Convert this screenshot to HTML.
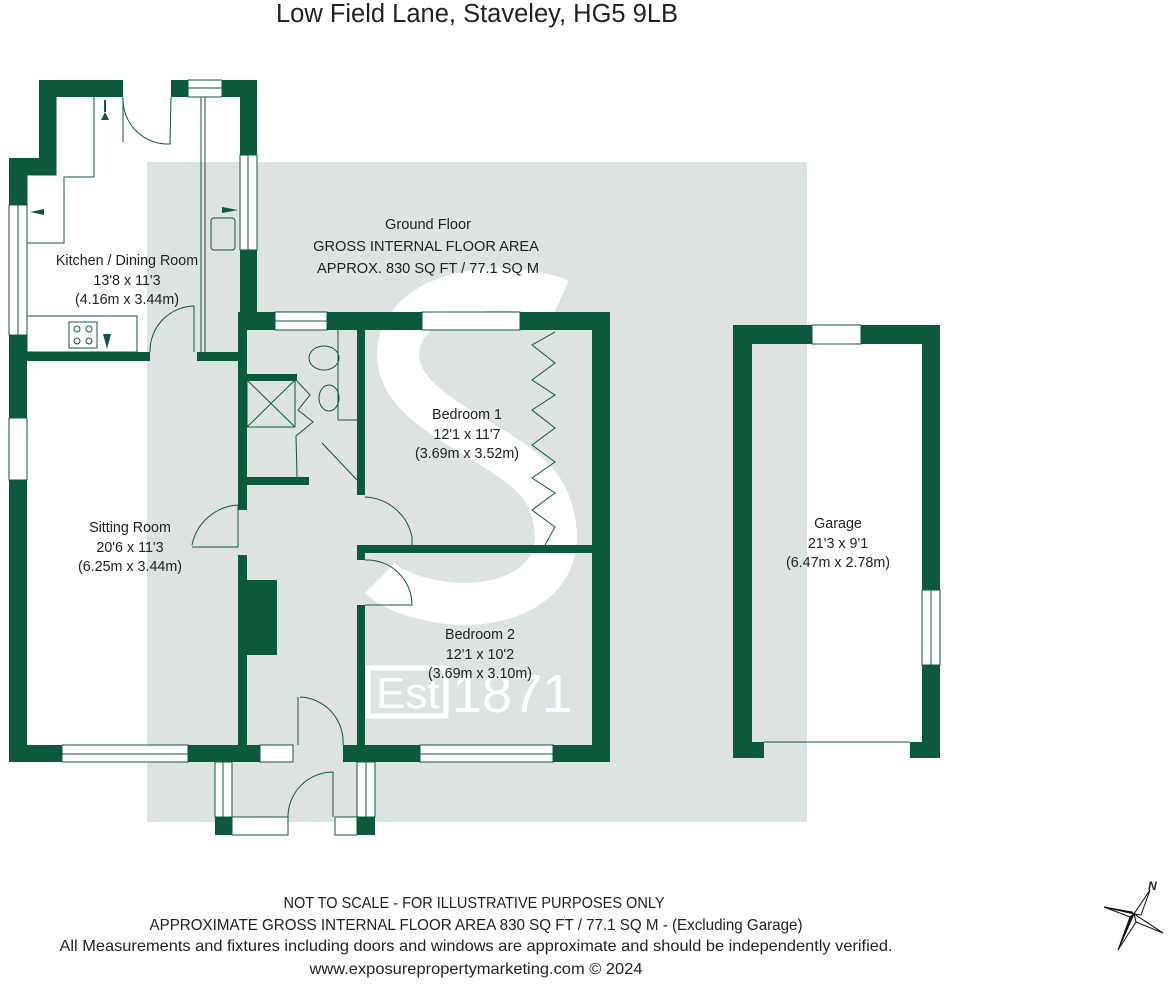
<!DOCTYPE html>
<html><head><meta charset="utf-8"><style>
html,body{margin:0;padding:0;background:#fff;}
svg{display:block;}
text{font-family:"Liberation Sans","DejaVu Sans",sans-serif;fill:#222;}
.w{fill:#fff;}
</style></head><body>
<svg width="1169" height="984" viewBox="0 0 1169 984" xmlns="http://www.w3.org/2000/svg">
<rect x="147" y="162" width="660" height="660" fill="#dde3e0"/>
<path d="M560,300 C520,282 420,282 400,340 C380,420 530,440 550,505 C578,585 500,612 440,602 C410,597 390,588 380,578" fill="none" stroke="#fff" stroke-width="42"/>
<rect x="368" y="668" width="78" height="48" fill="none" stroke="#fff" stroke-width="5"/>
<text x="376" y="708" font-size="44" style="fill:#fff">Est.</text>
<text x="452" y="712" font-size="54" style="fill:#fff">1871</text>

<g fill="#0b5a3c">
<rect x="39" y="80" width="84" height="17"/>
<rect x="39" y="80" width="17" height="95"/>
<rect x="9" y="158" width="47" height="17"/>
<rect x="9" y="158" width="18" height="47"/>
<rect x="9" y="335" width="18" height="83"/>
<rect x="9" y="480" width="18" height="282"/>
<rect x="171" y="80" width="17" height="17"/>
<rect x="222" y="80" width="35" height="17"/>
<rect x="240" y="80" width="17" height="75"/>
<rect x="240" y="250" width="17" height="80"/>
<rect x="27" y="352" width="123" height="9"/>
<rect x="197" y="352" width="43" height="9"/>
<rect x="238" y="312" width="37" height="18"/>
<rect x="238" y="312" width="9" height="198"/>
<rect x="238" y="555" width="9" height="190"/>
<rect x="327" y="312" width="95" height="18"/>
<rect x="520" y="312" width="90" height="18"/>
<rect x="592" y="312" width="18" height="450"/>
<rect x="357" y="330" width="8" height="165"/>
<rect x="247" y="374" width="50" height="7"/>
<rect x="247" y="477" width="62" height="8"/>
<rect x="357" y="545" width="235" height="8"/>
<rect x="357" y="545" width="8" height="15"/>
<rect x="357" y="605" width="8" height="140"/>
<rect x="247" y="580" width="30" height="75"/>
<rect x="9" y="745" width="53" height="17"/>
<rect x="188" y="745" width="72" height="17"/>
<rect x="343" y="745" width="77" height="17"/>
<rect x="553" y="745" width="57" height="17"/>
<rect x="215" y="817" width="17" height="18"/>
<rect x="357" y="817" width="18" height="18"/>
<rect x="733" y="325" width="19" height="433"/>
<rect x="733" y="325" width="79" height="19"/>
<rect x="861" y="325" width="79" height="19"/>
<rect x="922" y="325" width="18" height="265"/>
<rect x="922" y="665" width="18" height="93"/>
<rect x="733" y="742" width="31" height="16"/>
<rect x="910" y="742" width="30" height="16"/>
</g>

<g fill="none" stroke="#0b5a3c" stroke-width="1">
<rect class="w" x="188" y="80" width="34" height="17"/><line x1="188" y1="88" x2="222" y2="88"/>
<rect class="w" x="240" y="155" width="17" height="95"/><line x1="248" y1="155" x2="248" y2="250"/>
<rect class="w" x="9" y="205" width="18" height="130"/><line x1="18" y1="205" x2="18" y2="335"/>
<rect class="w" x="9" y="418" width="18" height="62"/>
<rect class="w" x="275" y="312" width="52" height="18"/><line x1="275" y1="321" x2="327" y2="321"/>
<rect class="w" x="422" y="312" width="98" height="18"/>
<rect class="w" x="62" y="745" width="126" height="17"/><line x1="62" y1="754" x2="188" y2="754"/>
<rect class="w" x="260" y="745" width="33" height="17"/>
<rect class="w" x="420" y="745" width="133" height="17"/><line x1="420" y1="754" x2="553" y2="754"/>
<rect class="w" x="812" y="325" width="49" height="19"/>
<rect class="w" x="922" y="590" width="18" height="75"/><line x1="931" y1="590" x2="931" y2="665"/>
<line x1="764" y1="742" x2="910" y2="742"/>
<rect class="w" x="215" y="762" width="17" height="55"/><line x1="223" y1="762" x2="223" y2="817"/>
<rect class="w" x="357" y="762" width="18" height="55"/><line x1="366" y1="762" x2="366" y2="817"/>
<rect class="w" x="232" y="817" width="56" height="18"/>
<rect class="w" x="335" y="817" width="22" height="18"/>
<polyline points="56,97 56,175 27,175 27,243 64,243 64,177 94,177 94,97"/>
<rect x="27" y="316" width="110" height="36"/>
<rect x="69" y="322" width="28" height="26"/>
<circle cx="77" cy="329" r="3"/><circle cx="89" cy="329" r="3"/><circle cx="77" cy="341" r="3"/><circle cx="89" cy="341" r="3"/>
<line x1="201" y1="97" x2="201" y2="352"/><line x1="205" y1="97" x2="205" y2="352"/>
<rect x="211" y="218" width="24" height="32" rx="3"/>
<line x1="123" y1="97" x2="123" y2="142"/>
<path d="M123,97 A45,45 0 0 0 170,144 L171,97"/>
<path d="M150,352 A45,45 0 0 1 194,306 L194,352"/>
<rect x="247" y="380" width="48" height="47"/>
<line x1="247" y1="380" x2="295" y2="427"/><line x1="295" y1="380" x2="247" y2="427"/>
<polyline points="338,330 338,420 357,420"/>
<ellipse cx="324" cy="358" rx="15" ry="12"/>
<ellipse cx="329" cy="398" rx="10" ry="13"/>
<polyline points="297,381 310,395 298,410 313,422 296,436 297,477"/>
<line x1="322" y1="443" x2="357" y2="480"/>
<path d="M192,545 A50,50 0 0 1 238,505 L238,547 L192,547"/>
<path d="M365,497 A50,50 0 0 1 412,537 L412,545"/>
<path d="M365,560 A45,45 0 0 1 412,605 L365,605"/>
<path d="M300,697 A45,45 0 0 1 343,745 M298,697 L298,745"/>
<path d="M288,817 A45,45 0 0 1 333,772 L333,817"/>
<polyline points="555,332 532,345 555,363 532,380 555,395 532,410 555,428 532,445 555,462 532,478 555,493 532,510 555,527 545,545"/>
</g>
<g fill="#0b5a3c">
<polygon points="105,112 101,120 109,120"/><rect x="104" y="100" width="2" height="12"/>
<polygon points="30,212 44,209 44,215"/>
<polygon points="238,210 222,207 222,213"/>
<polygon points="107,349 103,334 111,334"/>
</g>

<text x="477" y="22" font-size="25.5" text-anchor="middle">Low Field Lane, Staveley, HG5 9LB</text>
<g font-size="14.6" text-anchor="middle">
<text x="428" y="229">Ground Floor</text>
<text x="426" y="251">GROSS INTERNAL FLOOR AREA</text>
<text x="428" y="273">APPROX. 830 SQ FT / 77.1 SQ M</text>
</g>
<g font-size="14.3" text-anchor="middle">
<text x="127" y="265">Kitchen / Dining Room</text>
<text x="127" y="285">13'8 x 11'3</text>
<text x="127" y="304">(4.16m x 3.44m)</text>
<text x="130" y="532">Sitting Room</text>
<text x="130" y="552">20'6 x 11'3</text>
<text x="130" y="571">(6.25m x 3.44m)</text>
<text x="467" y="419">Bedroom 1</text>
<text x="467" y="439">12'1 x 11'7</text>
<text x="467" y="458">(3.69m x 3.52m)</text>
<text x="480" y="639">Bedroom 2</text>
<text x="480" y="659">12'1 x 10'2</text>
<text x="480" y="678">(3.69m x 3.10m)</text>
<text x="838" y="528">Garage</text>
<text x="838" y="548">21'3 x 9'1</text>
<text x="838" y="567">(6.47m x 2.78m)</text>
</g>
<g font-size="16" text-anchor="middle">
<text x="474" y="908" textLength="381" lengthAdjust="spacingAndGlyphs">NOT TO SCALE - FOR ILLUSTRATIVE PURPOSES ONLY</text>
<text x="476" y="930" textLength="653" lengthAdjust="spacingAndGlyphs">APPROXIMATE GROSS INTERNAL FLOOR AREA 830 SQ FT / 77.1 SQ M - (Excluding Garage)</text>
<text x="476" y="951" textLength="833" lengthAdjust="spacingAndGlyphs">All Measurements and fixtures including doors and windows are approximate and should be independently verified.</text>
<text x="476" y="974" textLength="333" lengthAdjust="spacingAndGlyphs">www.exposurepropertymarketing.com © 2024</text>
</g>
<g stroke="#111" stroke-width="1" fill="#111">
<polygon points="1150,890 1138,912 1134,914"/>
<polygon points="1150,890 1141,915 1134,914" fill="#fff"/>
<polygon points="1104,907 1132,912 1134,914" />
<polygon points="1104,907 1130,917 1134,914" fill="#fff"/>
<polygon points="1163,933 1138,918 1134,914"/>
<polygon points="1163,933 1136,922 1134,914" fill="#fff"/>
<polygon points="1118,950 1130,917 1134,914"/>
<polygon points="1118,950 1136,922 1134,914" fill="#fff"/>
</g>
<text x="1148" y="890" font-size="12" font-weight="bold" font-style="italic">N</text>
</svg>
</body></html>
